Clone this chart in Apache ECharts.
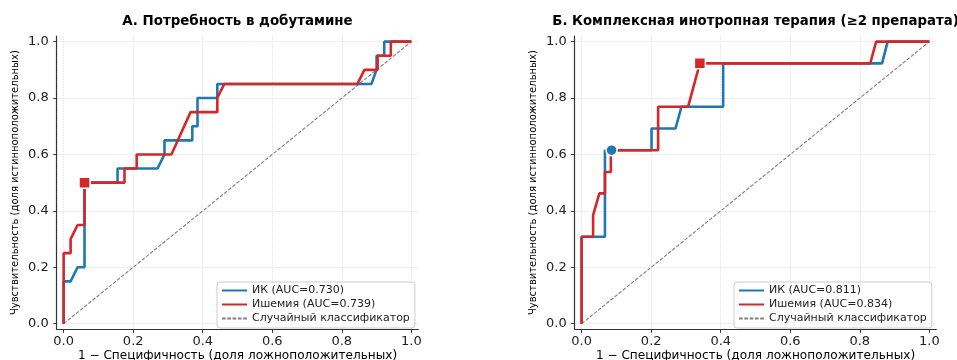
<!DOCTYPE html>
<html>
<head>
<meta charset="utf-8">
<script src="https://cdn.jsdelivr.net/npm/echarts@6/dist/echarts.min.js"></script>
<style>html,body{margin:0;padding:0;background:#fff;overflow:hidden}#c{width:957px;height:380px}</style>
</head>
<body>
<div id="c"></div>
<script>
// ---- Data ----
const titles = ['А. Потребность в добутамине', 'Б. Комплексная инотропная терапия (≥2 препарата)'];
const xName = '1 − Специфичность (доля ложноположительных)';
const yName = 'Чувствительность (доля истинноположительных)';
const tickValues = [0, 0.2, 0.4, 0.6, 0.8, 1.0];

const namesA = ['ИК (AUC=0.730)', 'Ишемия (AUC=0.739)'];
const namesB = ['ИК (AUC=0.811)', 'Ишемия (AUC=0.834)'];
const randomName = 'Случайный классификатор';

// Panel A
const aIK_fpr = [0, 0, 0.02, 0.04, 0.06, 0.06, 0.155, 0.155, 0.27, 0.29, 0.29, 0.37, 0.37, 0.385, 0.385, 0.442, 0.442, 0.885, 0.90, 0.90, 0.922, 0.922, 1.0];
const aIK_tpr = [0, 0.15, 0.15, 0.20, 0.20, 0.50, 0.50, 0.55, 0.55, 0.60, 0.65, 0.65, 0.70, 0.70, 0.80, 0.80, 0.85, 0.85, 0.90, 0.95, 0.95, 1.0, 1.0];
const aIs_fpr = [0, 0, 0.02, 0.02, 0.04, 0.06, 0.06, 0.175, 0.175, 0.21, 0.21, 0.31, 0.365, 0.442, 0.442, 0.462, 0.845, 0.865, 0.903, 0.903, 0.941, 0.941, 1.0];
const aIs_tpr = [0, 0.25, 0.25, 0.30, 0.35, 0.35, 0.50, 0.50, 0.55, 0.55, 0.60, 0.60, 0.75, 0.75, 0.80, 0.85, 0.85, 0.90, 0.90, 0.95, 0.95, 1.0, 1.0];
const aIK_opt = [0.06, 0.50];
const aIs_opt = [0.06, 0.50];

// Panel B
const bIK_fpr = [0, 0, 0.067, 0.067, 0.201, 0.201, 0.27, 0.287, 0.407, 0.407, 0.864, 0.88, 1.0];
const bIK_tpr = [0, 0.308, 0.308, 0.615, 0.615, 0.692, 0.692, 0.769, 0.769, 0.923, 0.923, 1.0, 1.0];
const bIs_fpr = [0, 0, 0.033, 0.033, 0.051, 0.067, 0.067, 0.084, 0.084, 0.22, 0.22, 0.306, 0.34, 0.83, 0.847, 1.0];
const bIs_tpr = [0, 0.308, 0.308, 0.385, 0.462, 0.462, 0.538, 0.538, 0.615, 0.615, 0.769, 0.769, 0.923, 0.923, 1.0, 1.0];
const bIK_opt = [0.086, 0.615];
const bIs_opt = [0.34, 0.923];

const diag = [[0, 0], [1, 1]];

// ---- Build ----
const zip = (a, b) => a.map((v, i) => [v, b[i]]);
const FONT = 'DejaVu Sans';
const BLUE = '#1f77b4', RED = '#d62728';

const grids = [
  {left: 56.7, top: 36, width: 361.6, height: 293.3},
  {left: 574.7, top: 36, width: 361.6, height: 293.3}
];

function xAxis(i) {
  return {
    type: 'value', gridIndex: i, min: -0.02, max: 1.02,
    name: xName, nameLocation: 'middle', nameGap: 21, nameMoveOverlap: false,
    nameTextStyle: {fontFamily: FONT, fontSize: 12.1, color: '#000'},
    axisLine: {show: true, onZero: false, lineStyle: {color: '#333', width: 1.2}},
    axisTick: {show: true, length: 3.5, customValues: tickValues, lineStyle: {color: '#333', width: 1}},
    axisLabel: {customValues: tickValues, margin: 6, fontFamily: FONT, fontSize: 13, color: '#222',
      formatter: v => v.toFixed(1)},
    splitLine: {show: true, lineStyle: {color: '#dadada', width: 0.8, type: 'dotted'}}
  };
}
function yAxis(i) {
  return {
    type: 'value', gridIndex: i, min: -0.02, max: 1.02,
    name: yName, nameLocation: 'middle', nameGap: 36, nameRotate: 90, nameMoveOverlap: false,
    nameTextStyle: {fontFamily: FONT, fontSize: 10, color: '#000'},
    axisLine: {show: true, onZero: false, lineStyle: {color: '#333', width: 1.2}},
    axisTick: {show: true, length: 3.5, customValues: tickValues, lineStyle: {color: '#333', width: 1}},
    axisLabel: {customValues: tickValues, margin: 8, fontFamily: FONT, fontSize: 13, color: '#222',
      formatter: v => v.toFixed(1)},
    splitLine: {show: true, lineStyle: {color: '#dadada', width: 0.8, type: 'dotted'}}
  };
}

function roc(name, i, fpr, tpr, color) {
  return {type: 'line', name, xAxisIndex: i, yAxisIndex: i, data: zip(fpr, tpr),
    symbol: 'none', lineStyle: {color, width: 2.6}, itemStyle: {color}, z: 3};
}
function diagS(i) {
  return {type: 'line', name: randomName, xAxisIndex: i, yAxisIndex: i, data: diag,
    symbol: 'none', lineStyle: {color: '#808080', width: 1.1, type: [3.7, 1.6]}, itemStyle: {color: '#808080'}, z: 2};
}
function opt(i, pt, color, shape) {
  return {type: 'scatter', xAxisIndex: i, yAxisIndex: i, data: [pt], symbol: shape, symbolSize: 11,
    itemStyle: {color, opacity: 1, borderColor: '#fff', borderWidth: 1.5}, z: 5, silent: true};
}
function legend(i, left, names) {
  return {
    orient: 'vertical', left, top: 282,
    data: names.concat([randomName]).map(n => ({name: n})),
    itemWidth: 25, itemHeight: 10, itemGap: 3, padding: [3, 5, 4, 4],
    itemStyle: {opacity: 0},
    borderColor: '#cccccc', borderWidth: 1, borderRadius: 3, backgroundColor: 'rgba(255,255,255,0.85)',
    textStyle: {fontFamily: FONT, fontSize: 11, color: '#222'},
    selectedMode: false
  };
}

const option = {
  animation: false,
  backgroundColor: '#fff',
  title: [
    {text: titles[0], left: 232.5, top: 10, textAlign: 'center',
      textStyle: {fontFamily: FONT, fontSize: 13.4, fontWeight: 'bold', color: '#000'}},
    {text: titles[1], left: 750.5, top: 10, textAlign: 'center',
      textStyle: {fontFamily: FONT, fontSize: 13.3, fontWeight: 'bold', color: '#000'}}
  ],
  grid: grids,
  xAxis: [xAxis(0), xAxis(1)],
  yAxis: [yAxis(0), yAxis(1)],
  legend: [legend(0, 217, namesA), legend(1, 734, namesB)],
  series: [
    roc(namesA[0], 0, aIK_fpr, aIK_tpr, BLUE),
    roc(namesA[1], 0, aIs_fpr, aIs_tpr, RED),
    diagS(0),
    opt(0, aIK_opt, BLUE, 'circle'),
    opt(0, aIs_opt, RED, 'rect'),
    roc(namesB[0], 1, bIK_fpr, bIK_tpr, BLUE),
    roc(namesB[1], 1, bIs_fpr, bIs_tpr, RED),
    diagS(1),
    opt(1, bIK_opt, BLUE, 'circle'),
    opt(1, bIs_opt, RED, 'rect')
  ]
};
const chart = echarts.init(document.getElementById('c'), null, {renderer: 'canvas'});
chart.setOption(option);
</script>
</body>
</html>
